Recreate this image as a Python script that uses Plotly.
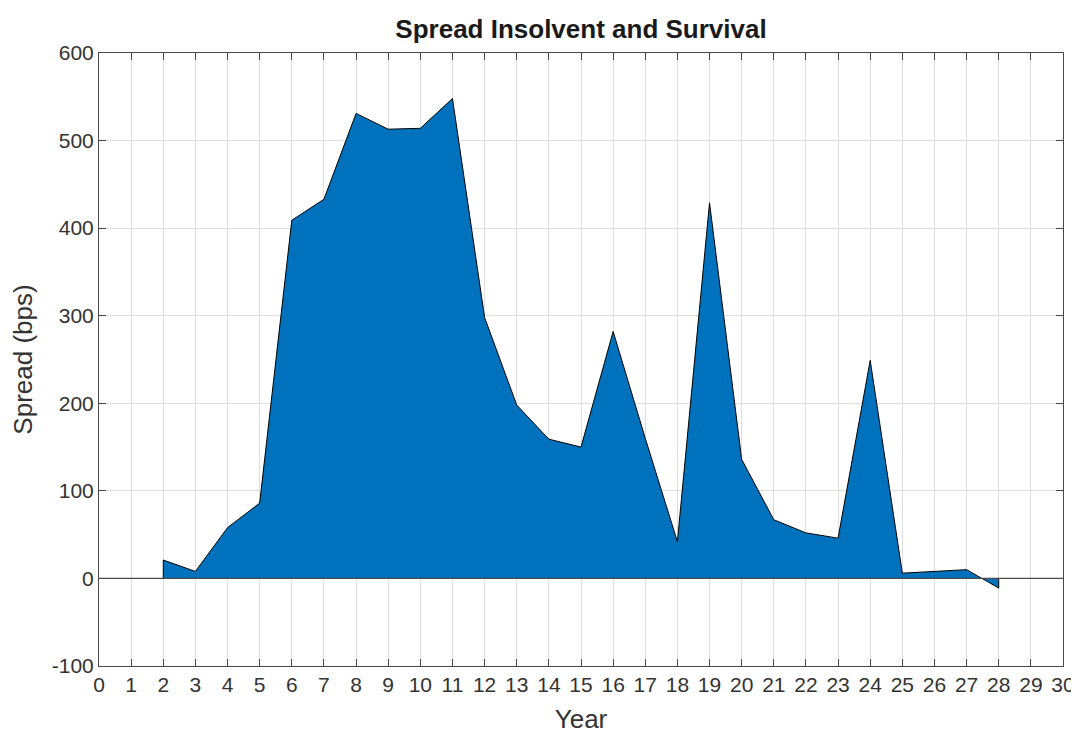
import plotly.graph_objects as go

years = list(range(2, 29))
spread = [21, 8, 58, 86, 409, 433, 531, 513, 514, 548, 298, 198, 159, 150,
          282, 160, 42, 429, 136, 67, 52, 46, 249, 6, 8, 10, -11]
x_ticks = list(range(0, 31))
y_ticks = list(range(-100, 601, 100))
baseline = 0

# closed area polygon down to the baseline (MATLAB area style)
poly_x = [years[0]] + years + [years[-1]]
poly_y = [baseline] + spread + [baseline]

# page body has an 8px margin, so the figure is sized to fit the window
W, H = 1071, 726
L, R, T, B = 91, 16, 45, 68

fig = go.Figure()
fig.add_trace(go.Scatter(
    x=poly_x, y=poly_y, mode="lines", fill="toself",
    fillcolor="#0072BD", line=dict(color="black", width=1),
    hoverinfo="skip", showlegend=False,
))

axis_common = dict(
    showgrid=True, gridcolor="#dedede", gridwidth=1,
    showline=True, linecolor="#4a4a4a", linewidth=1, mirror="ticks",
    ticks="inside", ticklen=7, tickcolor="#4a4a4a", tickwidth=1,
    tickfont=dict(family="Liberation Sans, Arial", size=21, color="#333333"),
    zeroline=False, automargin=False,
)

fig.update_layout(
    width=W, height=H,
    margin=dict(l=L, r=R, t=T, b=B, autoexpand=False),
    paper_bgcolor="white", plot_bgcolor="white",
    title=dict(text="<b>Spread Insolvent and Survival</b>",
               font=dict(family="Liberation Sans, Arial", size=26, color="#1a1a1a"),
               x=(L + (W - L - R) / 2) / W, xanchor="center",
               y=1 - 21 / H, yanchor="middle", xref="container", yref="container",
               automargin=False),
    xaxis=dict(range=[0, 30], tickmode="array", tickvals=x_ticks,
               ticktext=[str(v) for v in x_ticks],
               title=dict(text="Year", standoff=15,
                          font=dict(family="Liberation Sans, Arial", size=26, color="#333333")),
               **axis_common),
    yaxis=dict(range=[-100, 600], tickmode="array", tickvals=y_ticks,
               ticktext=[str(v) for v in y_ticks],
               title=dict(text="Spread (bps)", standoff=12,
                          font=dict(family="Liberation Sans, Arial", size=26, color="#333333")),
               **axis_common),
    shapes=[dict(type="line", xref="x", yref="y", x0=0, x1=30, y0=baseline, y1=baseline,
                 line=dict(color="#4a4a4a", width=1.2), layer="above")],
)

fig.write_html("out.html")
